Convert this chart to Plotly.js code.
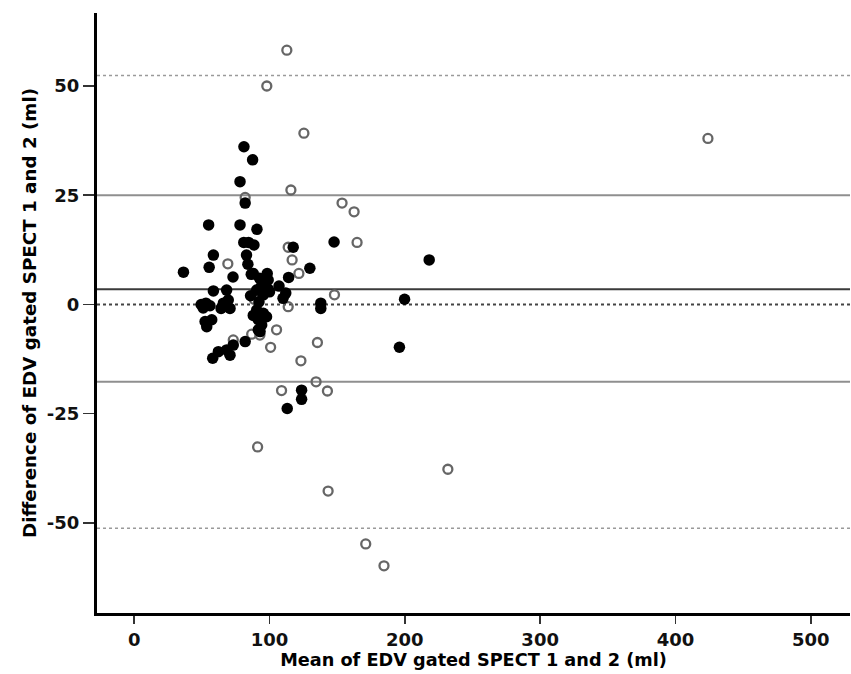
<!DOCTYPE html>
<html>
<head>
<meta charset="utf-8">
<script src="https://cdn.plot.ly/plotly-3.0.1.min.js"></script>
<style>html,body{margin:0;padding:0;background:#fff;}#chart{width:851px;height:674px;}</style>
</head>
<body>
<div id="chart"></div>
<script>
// Filled (black) points: mean EDV (x) and difference (y)
const filledX = [36.4, 55, 78.2, 81.1, 87.5, 78.2, 82, 90.7, 81, 84.5, 88.5, 58.5, 83, 55.4, 84, 73, 86.5, 88, 98.3, 92.6, 96.5, 99, 93.8, 99, 107, 112, 110, 95.4, 100, 90.5, 58.5, 68.3, 92.2, 49.5, 53, 56, 51, 65.9, 69.5, 70.8, 64.2, 52.4, 57.3, 53.6, 90.5, 95.4, 97.8, 91.7, 94.2, 93, 91.7, 82, 73.2, 68.3, 62.2, 70.8, 58, 114.1, 117.5, 129.8, 147.7, 218, 137.9, 137.9, 199.8, 196, 123.7, 123.7, 113.1, 86, 88];
const filledY = [7.4, 18.2, 18.2, 36.1, 33.1, 28.1, 23.2, 17.2, 14.2, 14.2, 13.6, 11.3, 11.3, 8.5, 9.2, 6.3, 6.9, 7.1, 7.1, 6, 4.8, 5.6, 4.1, 3.5, 4.2, 2.6, 1.4, 2.2, 2.9, 3.3, 3.1, 3.3, 0.6, 0, 0.3, -0.3, -0.8, 0.3, 1, -0.9, -0.9, -3.9, -3.5, -5.1, -1.3, -2, -2.8, -3.5, -4.7, -6.2, -5.8, -8.5, -9.3, -10.4, -10.8, -11.6, -12.3, 6.2, 13.1, 8.3, 14.3, 10.2, 0.3, -0.9, 1.2, -9.8, -19.6, -21.7, -23.8, 2, -2.5];

// Open (hollow) points
const openX = [112.8, 98, 125.4, 424, 115.8, 153.6, 162.5, 164.7, 113.8, 116.7, 121.7, 69.2, 82, 148, 88.6, 113.8, 86.8, 92.9, 105.2, 100.8, 73.2, 135.4, 123.2, 134.4, 108.9, 142.8, 91.2, 143.3, 231.8, 171.1, 184.6];
const openY = [58.2, 50, 39.2, 38, 26.2, 23.2, 21.2, 14.2, 13.1, 10.2, 7.1, 9.3, 24.5, 2.2, 1.2, -0.5, -6.8, -7, -5.8, -9.8, -8.1, -8.7, -12.9, -17.7, -19.7, -19.8, -32.6, -42.7, -37.7, -54.8, -59.8];

// Reference lines: upper/lower limits (dotted), limits of agreement (grey), mean difference, zero
const refNames = ["upperOuter", "upperLoA", "meanDiff", "zero", "lowerLoA", "lowerOuter"];
const refValues = [52.4, 25.0, 3.5, 0, -17.7, -51.2];

const xTicks = [0, 100, 200, 300, 400, 500];
const yTicks = [-50, -25, 0, 25, 50];
const xTitle = "Mean of EDV gated SPECT 1 and 2 (ml)";
const yTitle = "Difference of EDV gated SPECT 1 and 2 (ml)";

const refStyles = {
  upperOuter: {color: "#9a9a9a", width: 1.6, dash: "dot"},
  upperLoA:   {color: "#8f8f8f", width: 2, dash: "solid"},
  meanDiff:   {color: "#3a3a3a", width: 2, dash: "solid"},
  zero:       {color: "#444444", width: 2.2, dash: "dot"},
  lowerLoA:   {color: "#8f8f8f", width: 2, dash: "solid"},
  lowerOuter: {color: "#9a9a9a", width: 1.6, dash: "dot"}
};

const shapes = refValues.map((v, i) => ({
  type: "line", xref: "paper", yref: "y", x0: 0, x1: 1, y0: v, y1: v,
  layer: "below", line: refStyles[refNames[i]]
}));

const tickFnt = {family: "DejaVu Sans, Verdana, sans-serif", size: 18, color: "#111", weight: "bold"};
const xTitleFnt = {family: "DejaVu Sans, Verdana, sans-serif", size: 17.7, color: "#000", weight: "bold"};
const yTitleFnt = {family: "DejaVu Sans, Verdana, sans-serif", size: 18.3, color: "#000", weight: "bold"};

const traces = [
  {x: openX, y: openY, type: "scatter", mode: "markers",
   marker: {symbol: "circle-open", size: 9, color: "#666", line: {width: 2.3, color: "#666"}},
   hoverinfo: "x+y"},
  {x: filledX, y: filledY, type: "scatter", mode: "markers",
   marker: {symbol: "circle", size: 11.5, color: "#000", line: {width: 0}},
   hoverinfo: "x+y"}
];

const layout = {
  width: 851, height: 674,
  margin: {l: 97, r: 1, t: 13, b: 61},
  paper_bgcolor: "#fff", plot_bgcolor: "#fff",
  showlegend: false,
  font: tickFnt,
  shapes: shapes,
  xaxis: {
    range: [-27.5, 529], tickvals: xTicks, ticktext: xTicks.map(String),
    showline: true, linewidth: 3, linecolor: "#000", mirror: false,
    ticks: "outside", ticklen: 8, tickwidth: 1.5, tickcolor: "#333",
    showgrid: false, zeroline: false, automargin: false,
    tickfont: tickFnt,
    title: {text: xTitle, font: xTitleFnt, standoff: 6}
  },
  yaxis: {
    range: [-70.6, 66.7], tickvals: yTicks, ticktext: yTicks.map(String),
    showline: true, linewidth: 3, linecolor: "#000", mirror: false,
    ticks: "outside", ticklen: 11, tickwidth: 1.5, tickcolor: "#333",
    showgrid: false, zeroline: false, automargin: false,
    tickfont: tickFnt,
    title: {text: yTitle, font: yTitleFnt, standoff: 6}
  }
};

Plotly.newPlot("chart", traces, layout, {displayModeBar: false, staticPlot: true});
</script>
</body>
</html>
